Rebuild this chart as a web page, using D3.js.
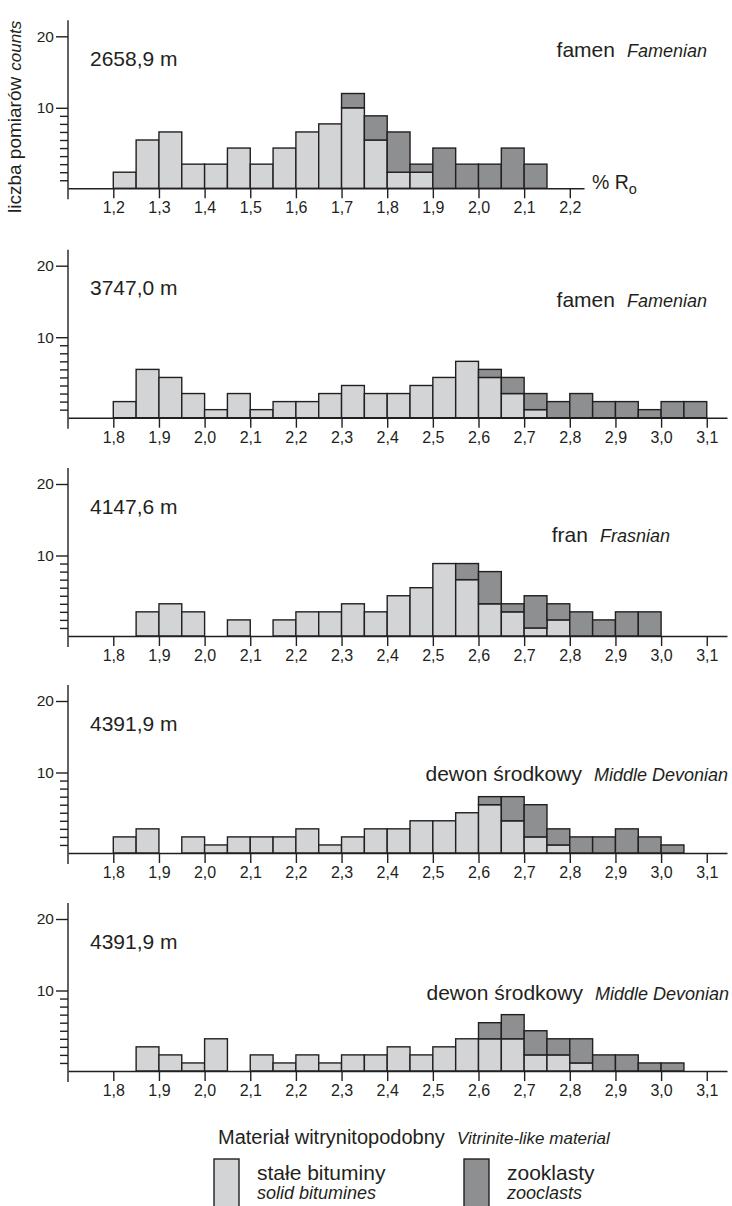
<!DOCTYPE html>
<html>
<head>
	<meta charset="utf-8">
	<script type="text/javascript" src="https://cdn.jsdelivr.net/npm/d3@7"></script>
	<title>Refleksyjnosc - histogramy</title>
	<style>
		body { margin: 0; background: #fff; }
		text { font-family: "Liberation Sans", Arial, sans-serif; fill: #231f20; }
	</style>
</head>
<body>
<script type="text/javascript">

	/*------ Data ------*/

	var depths   = ['2658,9 m', '3747,0 m', '4147,6 m', '4391,9 m', '4391,9 m'];
	var stagePl  = ['famen', 'famen', 'fran', 'dewon środkowy', 'dewon środkowy'];
	var stageEn  = ['Famenian', 'Famenian', 'Frasnian', 'Middle Devonian', 'Middle Devonian'];

	var binWidth = 0.05;
	var binStart = [1.20, 1.80, 1.80, 1.80, 1.80];

	// solid bitumines (light) and zooclasts (dark, stacked on top), one value per 0.05 bin
	var bitumen1  = [2, 6, 7, 3, 3, 5, 3, 5, 7, 8, 10, 6, 2, 2, 0, 0, 0, 0, 0];
	var zooclast1 = [0, 0, 0, 0, 0, 0, 0, 0, 0, 0, 2, 3, 5, 1, 5, 3, 3, 5, 3];

	var bitumen2  = [2, 6, 5, 3, 1, 3, 1, 2, 2, 3, 4, 3, 3, 4, 5, 7, 5, 3, 1, 0, 0, 0, 0, 0, 0, 0];
	var zooclast2 = [0, 0, 0, 0, 0, 0, 0, 0, 0, 0, 0, 0, 0, 0, 0, 0, 1, 2, 2, 2, 3, 2, 2, 1, 2, 2];

	var bitumen3  = [0, 3, 4, 3, 0, 2, 0, 2, 3, 3, 4, 3, 5, 6, 9, 7, 4, 3, 1, 2, 0, 0, 0, 0, 0, 0];
	var zooclast3 = [0, 0, 0, 0, 0, 0, 0, 0, 0, 0, 0, 0, 0, 0, 0, 2, 4, 1, 4, 2, 3, 2, 3, 3, 0, 0];

	var bitumen4  = [2, 3, 0, 2, 1, 2, 2, 2, 3, 1, 2, 3, 3, 4, 4, 5, 6, 4, 2, 1, 0, 0, 0, 0, 0, 0];
	var zooclast4 = [0, 0, 0, 0, 0, 0, 0, 0, 0, 0, 0, 0, 0, 0, 0, 0, 1, 3, 4, 2, 2, 2, 3, 2, 1, 0];

	var bitumen5  = [0, 3, 2, 1, 4, 0, 2, 1, 2, 1, 2, 2, 3, 2, 3, 4, 4, 4, 2, 2, 1, 0, 0, 0, 0, 0];
	var zooclast5 = [0, 0, 0, 0, 0, 0, 0, 0, 0, 0, 0, 0, 0, 0, 0, 0, 2, 3, 3, 2, 3, 2, 2, 1, 1, 0];

	var ticksTop  = [1.2, 1.3, 1.4, 1.5, 1.6, 1.7, 1.8, 1.9, 2.0, 2.1, 2.2];
	var ticksDeep = [1.8, 1.9, 2.0, 2.1, 2.2, 2.3, 2.4, 2.5, 2.6, 2.7, 2.8, 2.9, 3.0, 3.1];
	var countTicks = [10, 20];
	var minorTicks = [1, 2, 3, 4, 5, 6, 7, 8, 9];

	/*------ Layout ------*/

	var svgWidth = 732;
	var svgHeight = 1206;
	var axisX = 68;
	var firstTickX = 113.3;
	var pxPerUnit = 456.5;

	var lightFill = '#d3d4d6';
	var darkFill = '#8e8f91';
	var ink = '#231f20';

	var panels = [
		{ base: 188.3, axisEnd: 584, stageX: 707, stageY: 57,    ticks: ticksTop,  light: bitumen1, dark: zooclast1 },
		{ base: 417.7, axisEnd: 727, stageX: 707, stageY: 306.7, ticks: ticksDeep, light: bitumen2, dark: zooclast2 },
		{ base: 636.0, axisEnd: 727, stageX: 670, stageY: 541.7, ticks: ticksDeep, light: bitumen3, dark: zooclast3 },
		{ base: 853.0, axisEnd: 727, stageX: 728, stageY: 781,   ticks: ticksDeep, light: bitumen4, dark: zooclast4 },
		{ base: 1071.0, axisEnd: 727, stageX: 729, stageY: 1000, ticks: ticksDeep, light: bitumen5, dark: zooclast5 }
	];

	var comma = d3.formatLocale({ decimal: ',', thousands: ' ', grouping: [3], currency: ['', ''] }).format('.1f');

	var svg = d3.select('body')
			.append('svg')
			.attr('width', svgWidth)
			.attr('height', svgHeight);

	panels.forEach(function (p, i) { renderPanel(p, i); });
	renderYLabel();
	renderLegend();

	function renderPanel(p, i) {
		var g = svg.append('g');

		var xScale = d3.scaleLinear()
				.domain([p.ticks[0], p.ticks[p.ticks.length - 1]])
				.range([firstTickX, firstTickX + (p.ticks[p.ticks.length - 1] - p.ticks[0]) * pxPerUnit]);
		xScale.domain([xScale.invert(axisX), xScale.invert(p.axisEnd)]).range([axisX, p.axisEnd]);

		var yScale = d3.scaleLinear()
				.domain([0, 10, 20])
				.range([p.base, p.base - 80.5, p.base - 152]);

		var bins = p.light.map(function (v, k) {
			var x0 = binStart[i] + k * binWidth;
			return { x0: x0, x1: x0 + binWidth, light: v, dark: p.dark[k] };
		});

		// light bars (solid bitumines)
		g.selectAll('rect.light')
			.data(bins.filter(function (d) { return d.light > 0; }))
			.enter()
			.append('rect')
			.attr('class', 'light')
			.attr('x', function (d) { return xScale(d.x0); })
			.attr('width', function (d) { return xScale(d.x1) - xScale(d.x0); })
			.attr('y', function (d) { return yScale(d.light); })
			.attr('height', function (d) { return yScale(0) - yScale(d.light); })
			.attr('fill', lightFill)
			.attr('stroke', ink)
			.attr('stroke-width', 1.4);

		// dark bars stacked on top (zooclasts)
		g.selectAll('rect.dark')
			.data(bins.filter(function (d) { return d.dark > 0; }))
			.enter()
			.append('rect')
			.attr('class', 'dark')
			.attr('x', function (d) { return xScale(d.x0); })
			.attr('width', function (d) { return xScale(d.x1) - xScale(d.x0); })
			.attr('y', function (d) { return yScale(d.light + d.dark); })
			.attr('height', function (d) { return yScale(d.light) - yScale(d.light + d.dark); })
			.attr('fill', darkFill)
			.attr('stroke', ink)
			.attr('stroke-width', 1.4);

		// x axis
		var xAxis = g.append('g')
			.attr('transform', 'translate(0,' + p.base + ')')
			.call(d3.axisBottom(xScale)
				.tickValues(p.ticks)
				.tickSize(10)
				.tickSizeOuter(0)
				.tickPadding(3)
				.tickFormat(comma));
		styleAxis(xAxis);
		xAxis.selectAll('text').attr('font-size', 16).attr('dy', '0.76em');

		// y axis: main ticks and minor ticks
		var yAxis = g.append('g')
			.attr('transform', 'translate(' + axisX + ',0)')
			.call(d3.axisLeft(yScale)
				.tickValues(countTicks)
				.tickSize(12)
				.tickPadding(2));
		styleAxis(yAxis);
		yAxis.select('.domain').remove();
		yAxis.selectAll('text').attr('font-size', 15.5);

		var yMinor = g.append('g')
			.attr('transform', 'translate(' + axisX + ',0)')
			.call(d3.axisLeft(yScale)
				.tickValues(minorTicks)
				.tickSize(8)
				.tickFormat(''));
		styleAxis(yMinor);
		yMinor.select('.domain').remove();

		g.append('line')
			.attr('x1', axisX).attr('x2', axisX)
			.attr('y1', yScale(20) - 16)
			.attr('y2', yScale(0) + 11)
			.attr('stroke', ink)
			.attr('stroke-width', 1.4);

		// labels
		g.append('text')
			.attr('x', 90)
			.attr('y', yScale(20) + 29.5)
			.attr('font-size', 21)
			.text(depths[i]);

		var en = g.append('text')
			.attr('x', p.stageX)
			.attr('y', p.stageY)
			.attr('text-anchor', 'end')
			.attr('font-size', 18)
			.attr('font-style', 'italic')
			.text(stageEn[i]);
		var enLeft = p.stageX - en.node().getComputedTextLength();

		g.append('text')
			.attr('x', enLeft - 12)
			.attr('y', p.stageY)
			.attr('text-anchor', 'end')
			.attr('font-size', 21)
			.text(stagePl[i]);

		if (i === 0) {
			var ro = g.append('text')
				.attr('x', p.axisEnd + 8)
				.attr('y', p.base + 1)
				.attr('font-size', 19.5)
				.text('% R');
			ro.append('tspan')
				.attr('font-size', 14.5)
				.attr('dy', 5)
				.text('o');
		}
	}

	function styleAxis(sel) {
		sel.attr('font-family', null).attr('font-size', null);
		sel.selectAll('path, line').attr('stroke', ink).attr('stroke-width', 1.4);
		sel.selectAll('text').attr('fill', ink);
	}

	function renderYLabel() {
		var t = svg.append('text')
			.attr('transform', 'translate(21,213) rotate(-90)')
			.attr('font-size', 19)
			.text('liczba pomiarów');
		t.append('tspan')
			.attr('dx', 6)
			.attr('font-size', 17)
			.attr('font-style', 'italic')
			.text('counts');
	}

	function renderLegend() {
		var g = svg.append('g');

		g.append('text')
			.attr('x', 218).attr('y', 1144)
			.attr('font-size', 20)
			.text('Materiał witrynitopodobny');
		g.append('text')
			.attr('x', 457).attr('y', 1144)
			.attr('font-size', 17)
			.attr('font-style', 'italic')
			.text('Vitrinite-like material');

		var items = [
			{ x: 214, fill: lightFill, pl: 'stałe bituminy', en: 'solid bitumines' },
			{ x: 464, fill: darkFill, pl: 'zooklasty', en: 'zooclasts' }
		];

		items.forEach(function (d) {
			g.append('rect')
				.attr('x', d.x).attr('y', 1159)
				.attr('width', 25).attr('height', 60)
				.attr('fill', d.fill)
				.attr('stroke', ink)
				.attr('stroke-width', 1.4);
			g.append('text')
				.attr('x', d.x + 43).attr('y', 1180)
				.attr('font-size', 21)
				.text(d.pl);
			g.append('text')
				.attr('x', d.x + 43).attr('y', 1199)
				.attr('font-size', 18)
				.attr('font-style', 'italic')
				.text(d.en);
		});
	}

</script>
</body>
</html>
